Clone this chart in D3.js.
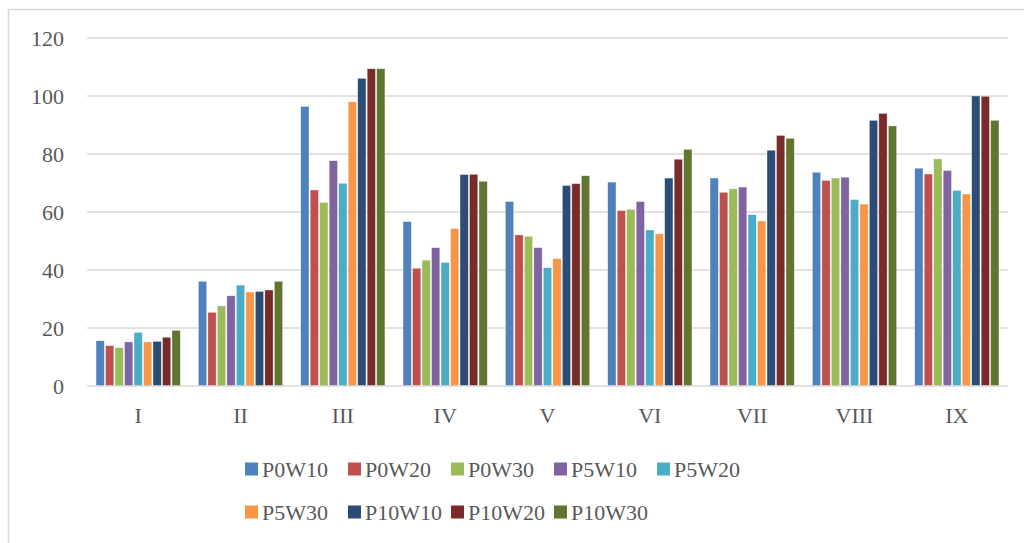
<!DOCTYPE html>
<html>
<head>
<meta charset="utf-8">
<script src="https://cdn.jsdelivr.net/npm/d3@7"></script>
<style>
  body { margin: 0; background: #fff; }
  svg { display: block; font-family: "Liberation Serif", serif; }
</style>
</head>
<body>
<div id="chart"></div>
<script>
// Data
const categories = ["I", "II", "III", "IV", "V", "VI", "VII", "VIII", "IX"];
const seriesNames = ["P0W10", "P0W20", "P0W30", "P5W10", "P5W20", "P5W30", "P10W10", "P10W20", "P10W30"];
const colors = ["#4F81BD", "#C0504D", "#9BBB59", "#8064A2", "#4BACC6", "#F79646", "#2C4D75", "#772C2A", "#5F7530"];
const yTicks = [0, 20, 40, 60, 80, 100, 120];

// one array per series, one value per category
const P0W10  = [15.6, 36.1, 96.4, 56.7, 63.6, 70.3, 71.7, 73.7, 75.1];
const P0W20  = [13.9, 25.4, 67.6, 40.6, 52.1, 60.5, 66.8, 70.9, 73.1];
const P0W30  = [13.2, 27.6, 63.3, 43.4, 51.6, 60.9, 68.0, 71.7, 78.3];
const P5W10  = [15.2, 31.1, 77.7, 47.7, 47.7, 63.6, 68.6, 72.0, 74.3];
const P5W20  = [18.5, 34.8, 69.9, 42.6, 40.8, 53.8, 59.1, 64.3, 67.4];
const P5W30  = [15.2, 32.4, 98.0, 54.3, 43.9, 52.5, 56.9, 62.7, 66.2];
const P10W10 = [15.4, 32.6, 106.1, 72.9, 69.1, 71.7, 81.3, 91.6, 100.0];
const P10W20 = [16.8, 33.1, 109.4, 73.0, 69.8, 78.2, 86.4, 94.0, 99.9];
const P10W30 = [19.2, 36.1, 109.4, 70.6, 72.5, 81.6, 85.4, 89.7, 91.6];
const seriesValues = [P0W10, P0W20, P0W30, P5W10, P5W20, P5W30, P10W10, P10W20, P10W30];

const W = 1024, H = 543;
const plot = {left: 87, right: 1008, top: 38, bottom: 386};

const svg = d3.select("#chart").append("svg")
    .attr("width", W)
    .attr("height", H);

// outer frame (only left and top visible in the crop)
svg.append("path")
    .attr("d", `M8.5,${H} V9.5 H${W}`)
    .attr("fill", "none")
    .attr("stroke", "#d9d9d9")
    .attr("stroke-width", 1.5);

const x0 = d3.scaleBand()
    .domain(categories)
    .range([plot.left, plot.right])
    .paddingInner(0.165)
    .paddingOuter(0.0825);

const x1 = d3.scaleBand()
    .domain(seriesNames)
    .range([0, x0.bandwidth()])
    .padding(0);

const y = d3.scaleLinear()
    .domain([0, 120])
    .range([plot.bottom, plot.top]);

// gridlines
svg.append("g")
    .selectAll("line")
    .data(yTicks.filter(d => d > 0))
    .join("line")
    .attr("x1", plot.left)
    .attr("x2", plot.right)
    .attr("y1", d => y(d))
    .attr("y2", d => y(d))
    .attr("stroke", "#d9d9d9")
    .attr("stroke-width", 1.3);

// y axis labels
const yAxis = svg.append("g")
    .attr("transform", `translate(${plot.left},0)`)
    .call(d3.axisLeft(y).tickValues(yTicks).tickSize(0).tickPadding(23));
yAxis.select(".domain").remove();
yAxis.selectAll("text")
    .attr("font-family", "Liberation Serif")
    .attr("font-size", 22)
    .attr("fill", "#595959");

// bars
const groups = svg.append("g")
    .selectAll("g")
    .data(seriesNames)
    .join("g")
    .attr("fill", (d, i) => colors[i]);

groups.selectAll("rect")
    .data((s, si) => categories.map((c, ci) => ({cat: c, series: s, value: seriesValues[si][ci]})))
    .join("rect")
    .attr("x", d => x0(d.cat) + x1(d.series) + 0.6)
    .attr("width", x1.bandwidth() - 1.2)
    .attr("y", d => y(d.value))
    .attr("height", d => y(0) - y(d.value))
    .attr("stroke", "#fff")
    .attr("stroke-opacity", 0.6)
    .attr("stroke-width", 0.6);

// x axis
const xAxis = svg.append("g")
    .attr("transform", `translate(0,${plot.bottom})`)
    .call(d3.axisBottom(x0).tickSize(0).tickPadding(21));
xAxis.select(".domain")
    .attr("d", `M${plot.left},0H${plot.right}`)
    .attr("stroke", "#d9d9d9")
    .attr("stroke-width", 1.5);
xAxis.selectAll("text")
    .attr("font-family", "Liberation Serif")
    .attr("font-size", 22)
    .attr("fill", "#595959");

// legend, two rows
const legendX = d3.scalePoint()
    .domain(d3.range(5))
    .range([245, 657]);
const legendY = [469, 512];

const legend = svg.append("g")
    .selectAll("g")
    .data(seriesNames)
    .join("g")
    .attr("transform", (d, i) => `translate(${legendX(i % 5)},${legendY[Math.floor(i / 5)]})`);

legend.append("rect")
    .attr("x", 0)
    .attr("y", -6.5)
    .attr("width", 13)
    .attr("height", 13)
    .attr("fill", (d, i) => colors[i]);

legend.append("text")
    .attr("x", 17)
    .attr("y", 0)
    .attr("dy", "0.35em")
    .attr("font-size", 22)
    .attr("fill", "#595959")
    .text(d => d);
</script>
</body>
</html>
